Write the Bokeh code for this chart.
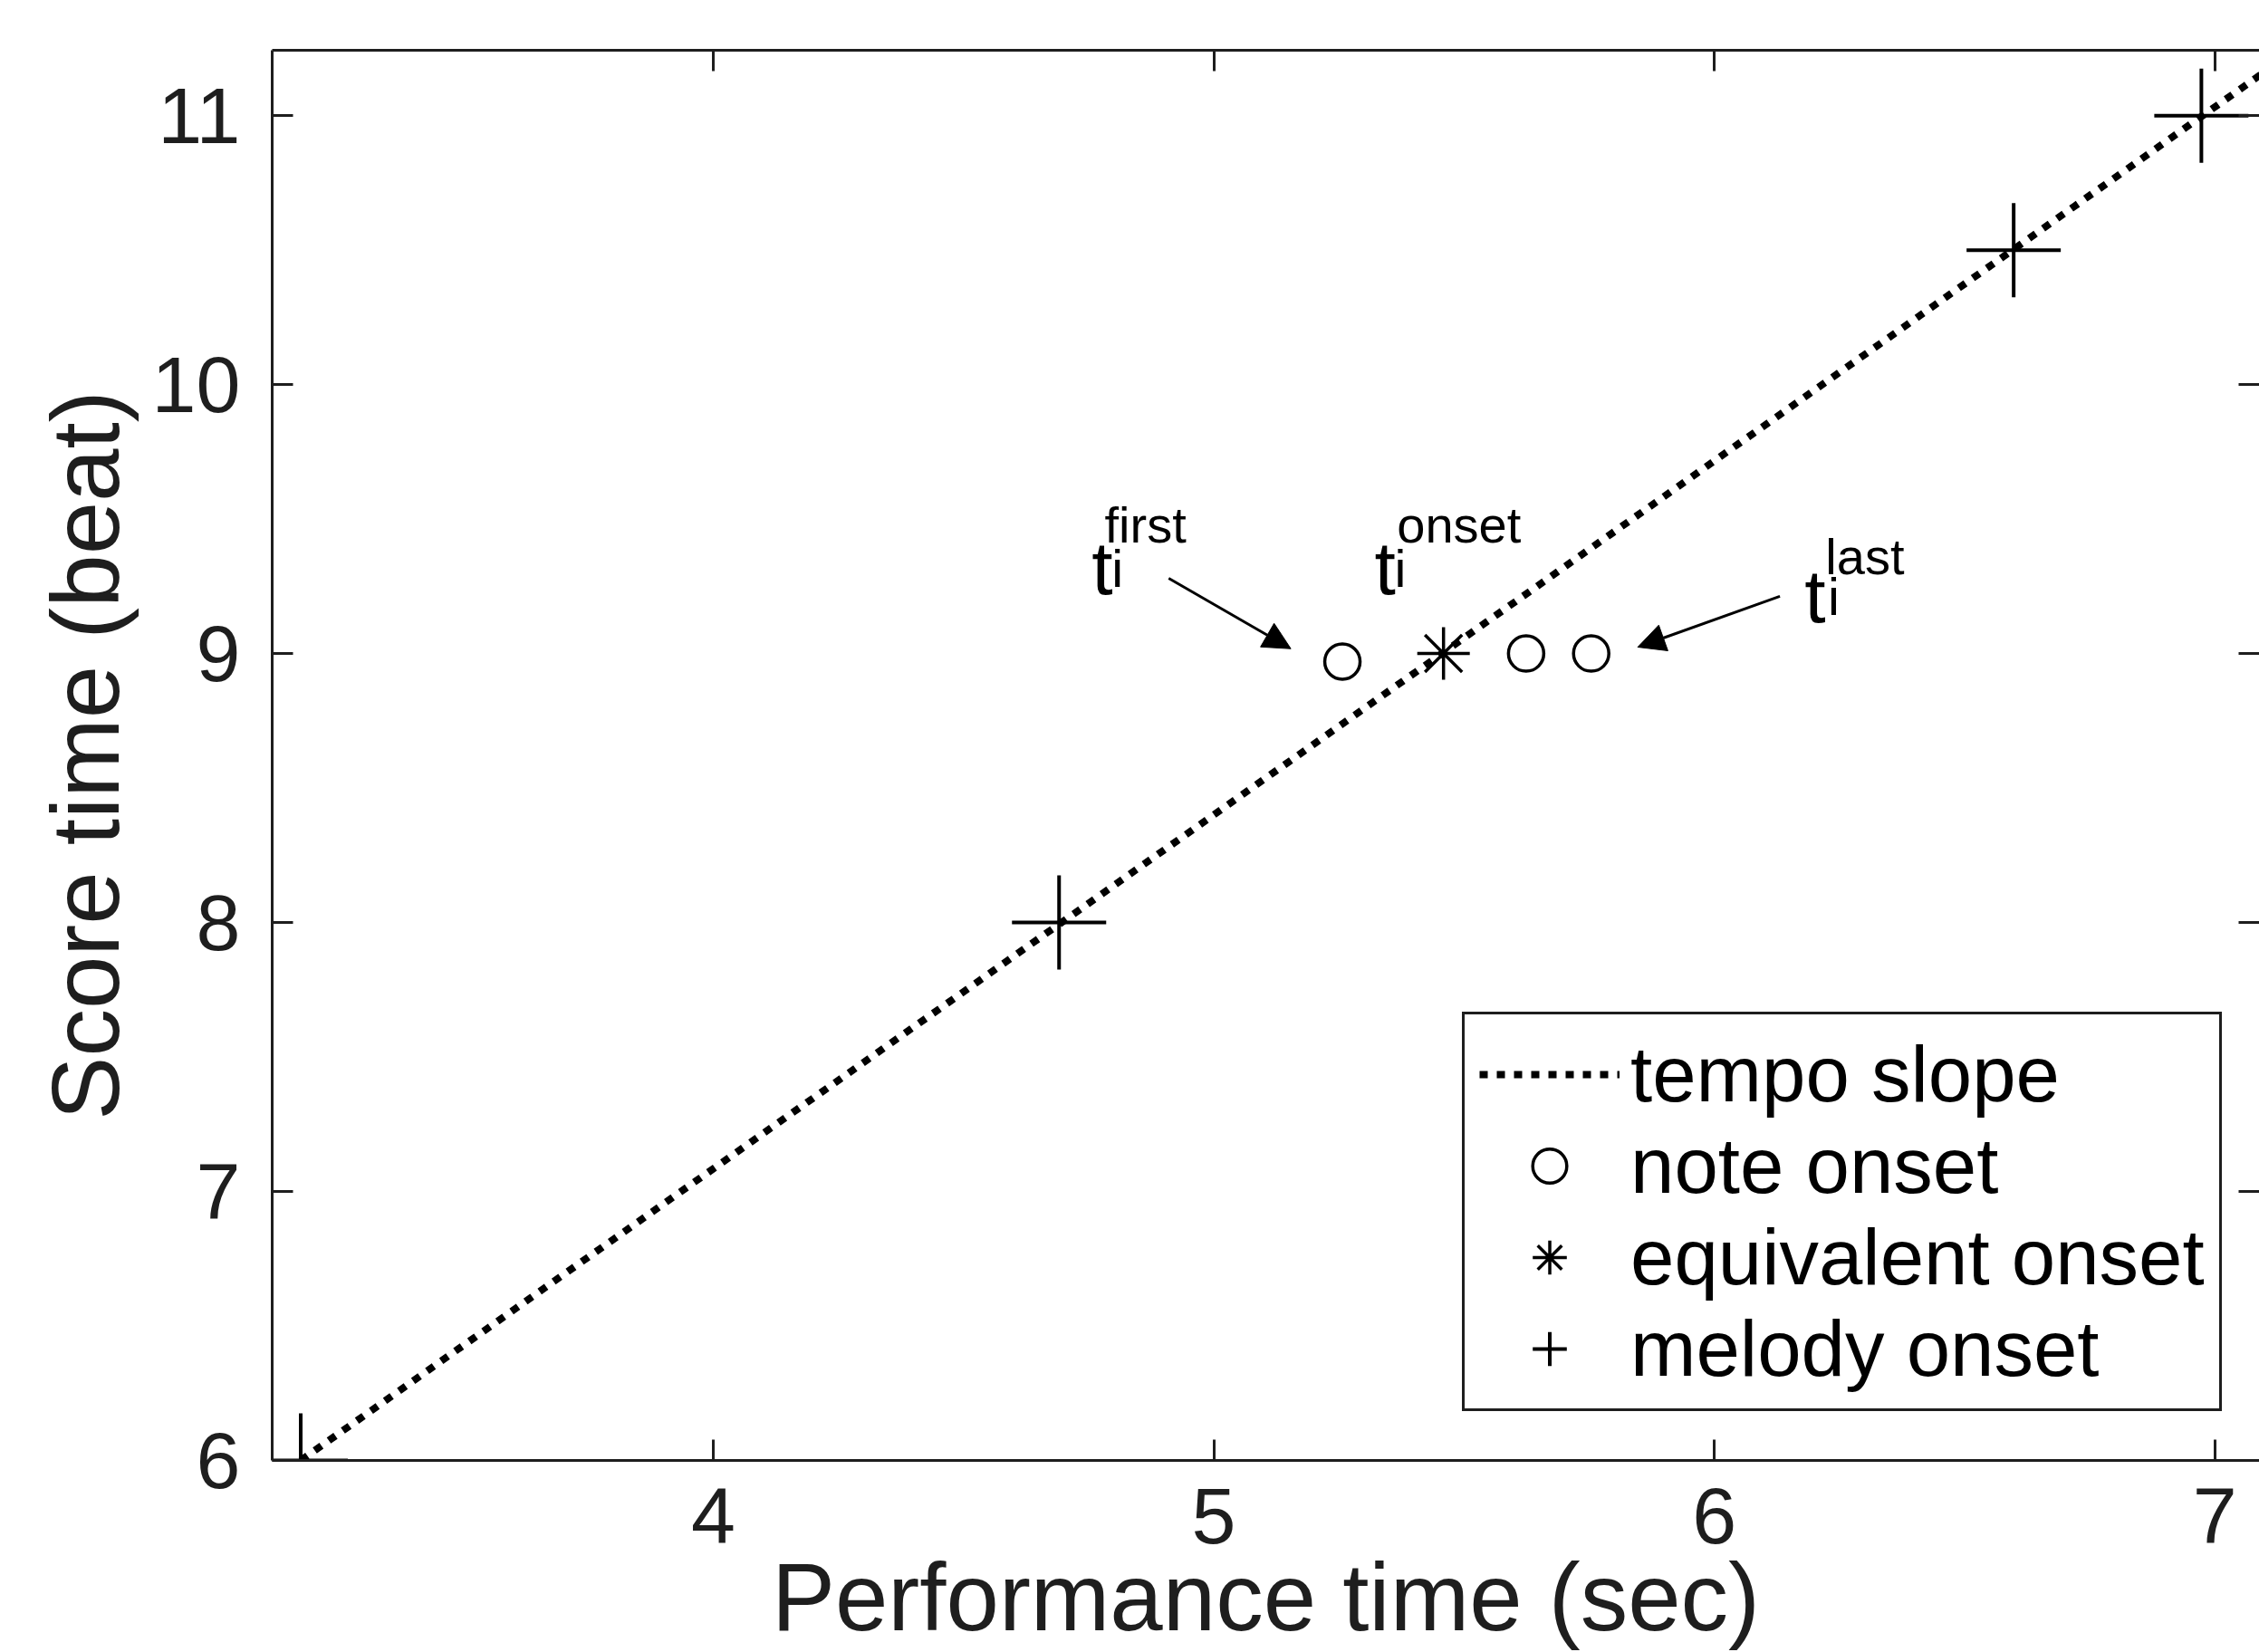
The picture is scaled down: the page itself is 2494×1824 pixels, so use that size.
from bokeh.plotting import figure
from bokeh.models import (Range1d, LinearAxis, FixedTicker, Legend, LegendItem,
                          Arrow, NormalHead, ColumnDataSource)
from bokeh.embed import file_html
from bokeh.resources import INLINE
from bokeh.core.properties import value

# ---------------- data ----------------
tempo_x = [3.176, 7.12]
tempo_y = [6.0, 11.19]
note_x = [5.257, 5.624, 5.754]
note_y = [8.97, 9.0, 9.0]
equiv_x = [5.459]
equiv_y = [9.0]
melody_x = [3.176, 4.691, 6.598, 6.973]
melody_y = [6.0, 8.0, 10.5, 11.0]

x_ticks = [4, 5, 6, 7]
y_ticks = [6, 7, 8, 9, 10, 11]
legend_labels = ["tempo slope", "note onset", "equivalent onset", "melody onset"]
x_label = "Performance time (sec)"
y_label = "Score time (beat)"

# annotations  t_i^{first}, t_i^{onset}, t_i^{last}
ann_sup = ["first", "onset", "last"]
ann_t_x = [4.756, 5.321, 6.180]
ann_t_y = [9.318, 9.318, 9.213]
ann_i_x = [4.796, 5.361, 6.227]
ann_sup_x = [4.782, 5.366, 6.222]
ann_sup_y = [9.479, 9.479, 9.361]
arrow_x0 = [4.910, 6.131]
arrow_y0 = [9.280, 9.213]
arrow_x1 = [5.154, 5.847]
arrow_y1 = [9.018, 9.024]

FONT = "Liberation Sans"
INK = "#1e1e1e"

p = figure(width=2494, height=1824, output_backend="svg", toolbar_location=None,
           x_range=Range1d(3.119, 7.089), y_range=Range1d(6.0, 11.243),
           min_border_left=300, min_border_top=55, min_border_right=0,
           min_border_bottom=0)
p.outline_line_color = None
p.xgrid.visible = False
p.ygrid.visible = False
p.background_fill_color = "white"
p.border_fill_color = "white"


def style_axis(ax, ticks, labels=True):
    ax.ticker = FixedTicker(ticks=ticks)
    ax.minor_tick_line_color = None
    ax.major_tick_in = 23
    ax.major_tick_out = 0
    ax.major_tick_line_width = 3
    ax.major_tick_line_color = INK
    ax.axis_line_width = 3
    ax.axis_line_color = INK
    if labels:
        ax.major_label_text_font = FONT
        ax.major_label_text_font_size = "88px"
        ax.major_label_text_color = INK
        ax.axis_label_text_font = FONT
        ax.axis_label_text_font_size = "105px"
        ax.axis_label_text_font_style = "normal"
        ax.axis_label_text_color = INK
    else:
        ax.major_label_text_font_size = "1px"
        ax.major_label_text_color = None
        ax.major_label_standoff = 0


xaxis = p.xaxis[0]
yaxis = p.yaxis[0]
style_axis(xaxis, x_ticks)
style_axis(yaxis, y_ticks)
xaxis.axis_label = x_label
yaxis.axis_label = y_label
xaxis.major_label_standoff = 31
xaxis.axis_label_standoff = -2
yaxis.major_label_standoff = 35
yaxis.axis_label_standoff = 12

top_axis = LinearAxis()
style_axis(top_axis, x_ticks, labels=False)
p.add_layout(top_axis, "above")
right_axis = LinearAxis()
style_axis(right_axis, y_ticks, labels=False)
right_axis.axis_line_color = None
p.add_layout(right_axis, "right")

# ---------------- glyphs ----------------
r_line = p.line(tempo_x, tempo_y, line_color="black", line_width=8,
                line_dash="9 10", line_cap="butt")
r_note = p.scatter(note_x, note_y, marker="circle", size=39, fill_color=None,
                   line_color="black", line_width=3.5)
r_equiv = p.scatter(equiv_x, equiv_y, marker="asterisk", size=58,
                    line_color="black", line_width=3.5)
r_melody = p.scatter(melody_x, melody_y, marker="cross", size=104,
                     line_color="black", line_width=4)

# annotation texts
p.text(x=ann_t_x, y=ann_t_y, text=["t"] * len(ann_t_x), text_font=value(FONT),
       text_font_size=value("84px"), text_color="black",
       text_align="left", text_baseline="alphabetic")
p.text(x=ann_i_x, y=ann_t_y, text=["i"] * len(ann_i_x), text_font=value(FONT),
       text_font_size=value("58px"), text_color="black",
       text_align="left", text_baseline="alphabetic")
p.text(x=ann_sup_x, y=ann_sup_y, text=ann_sup, text_font=value(FONT),
       text_font_size=value("56px"), text_color="black",
       text_align="left", text_baseline="alphabetic")

arrow_src = ColumnDataSource(data=dict(x0=arrow_x0, y0=arrow_y0, x1=arrow_x1, y1=arrow_y1))
p.add_layout(Arrow(source=arrow_src, x_start="x0", y_start="y0", x_end="x1", y_end="y1",
                   line_color="black", line_width=3,
                   end=NormalHead(size=30, fill_color="black", line_color="black",
                                  line_width=1)))

legend = Legend(items=[LegendItem(label=legend_labels[0], renderers=[r_line]),
                       LegendItem(label=legend_labels[1], renderers=[r_note]),
                       LegendItem(label=legend_labels[2], renderers=[r_equiv]),
                       LegendItem(label=legend_labels[3], renderers=[r_melody])],
                location=(1314, 54), margin=0, padding=16, spacing=1,
                glyph_width=155, glyph_height=94, label_height=94, label_standoff=12,
                label_text_font=FONT, label_text_font_size="87px",
                label_text_color="black", border_line_color=INK,
                border_line_width=3, border_line_alpha=1.0,
                background_fill_color="white", background_fill_alpha=1.0)
p.add_layout(legend)

open("out.html", "w").write(file_html(p, INLINE))
